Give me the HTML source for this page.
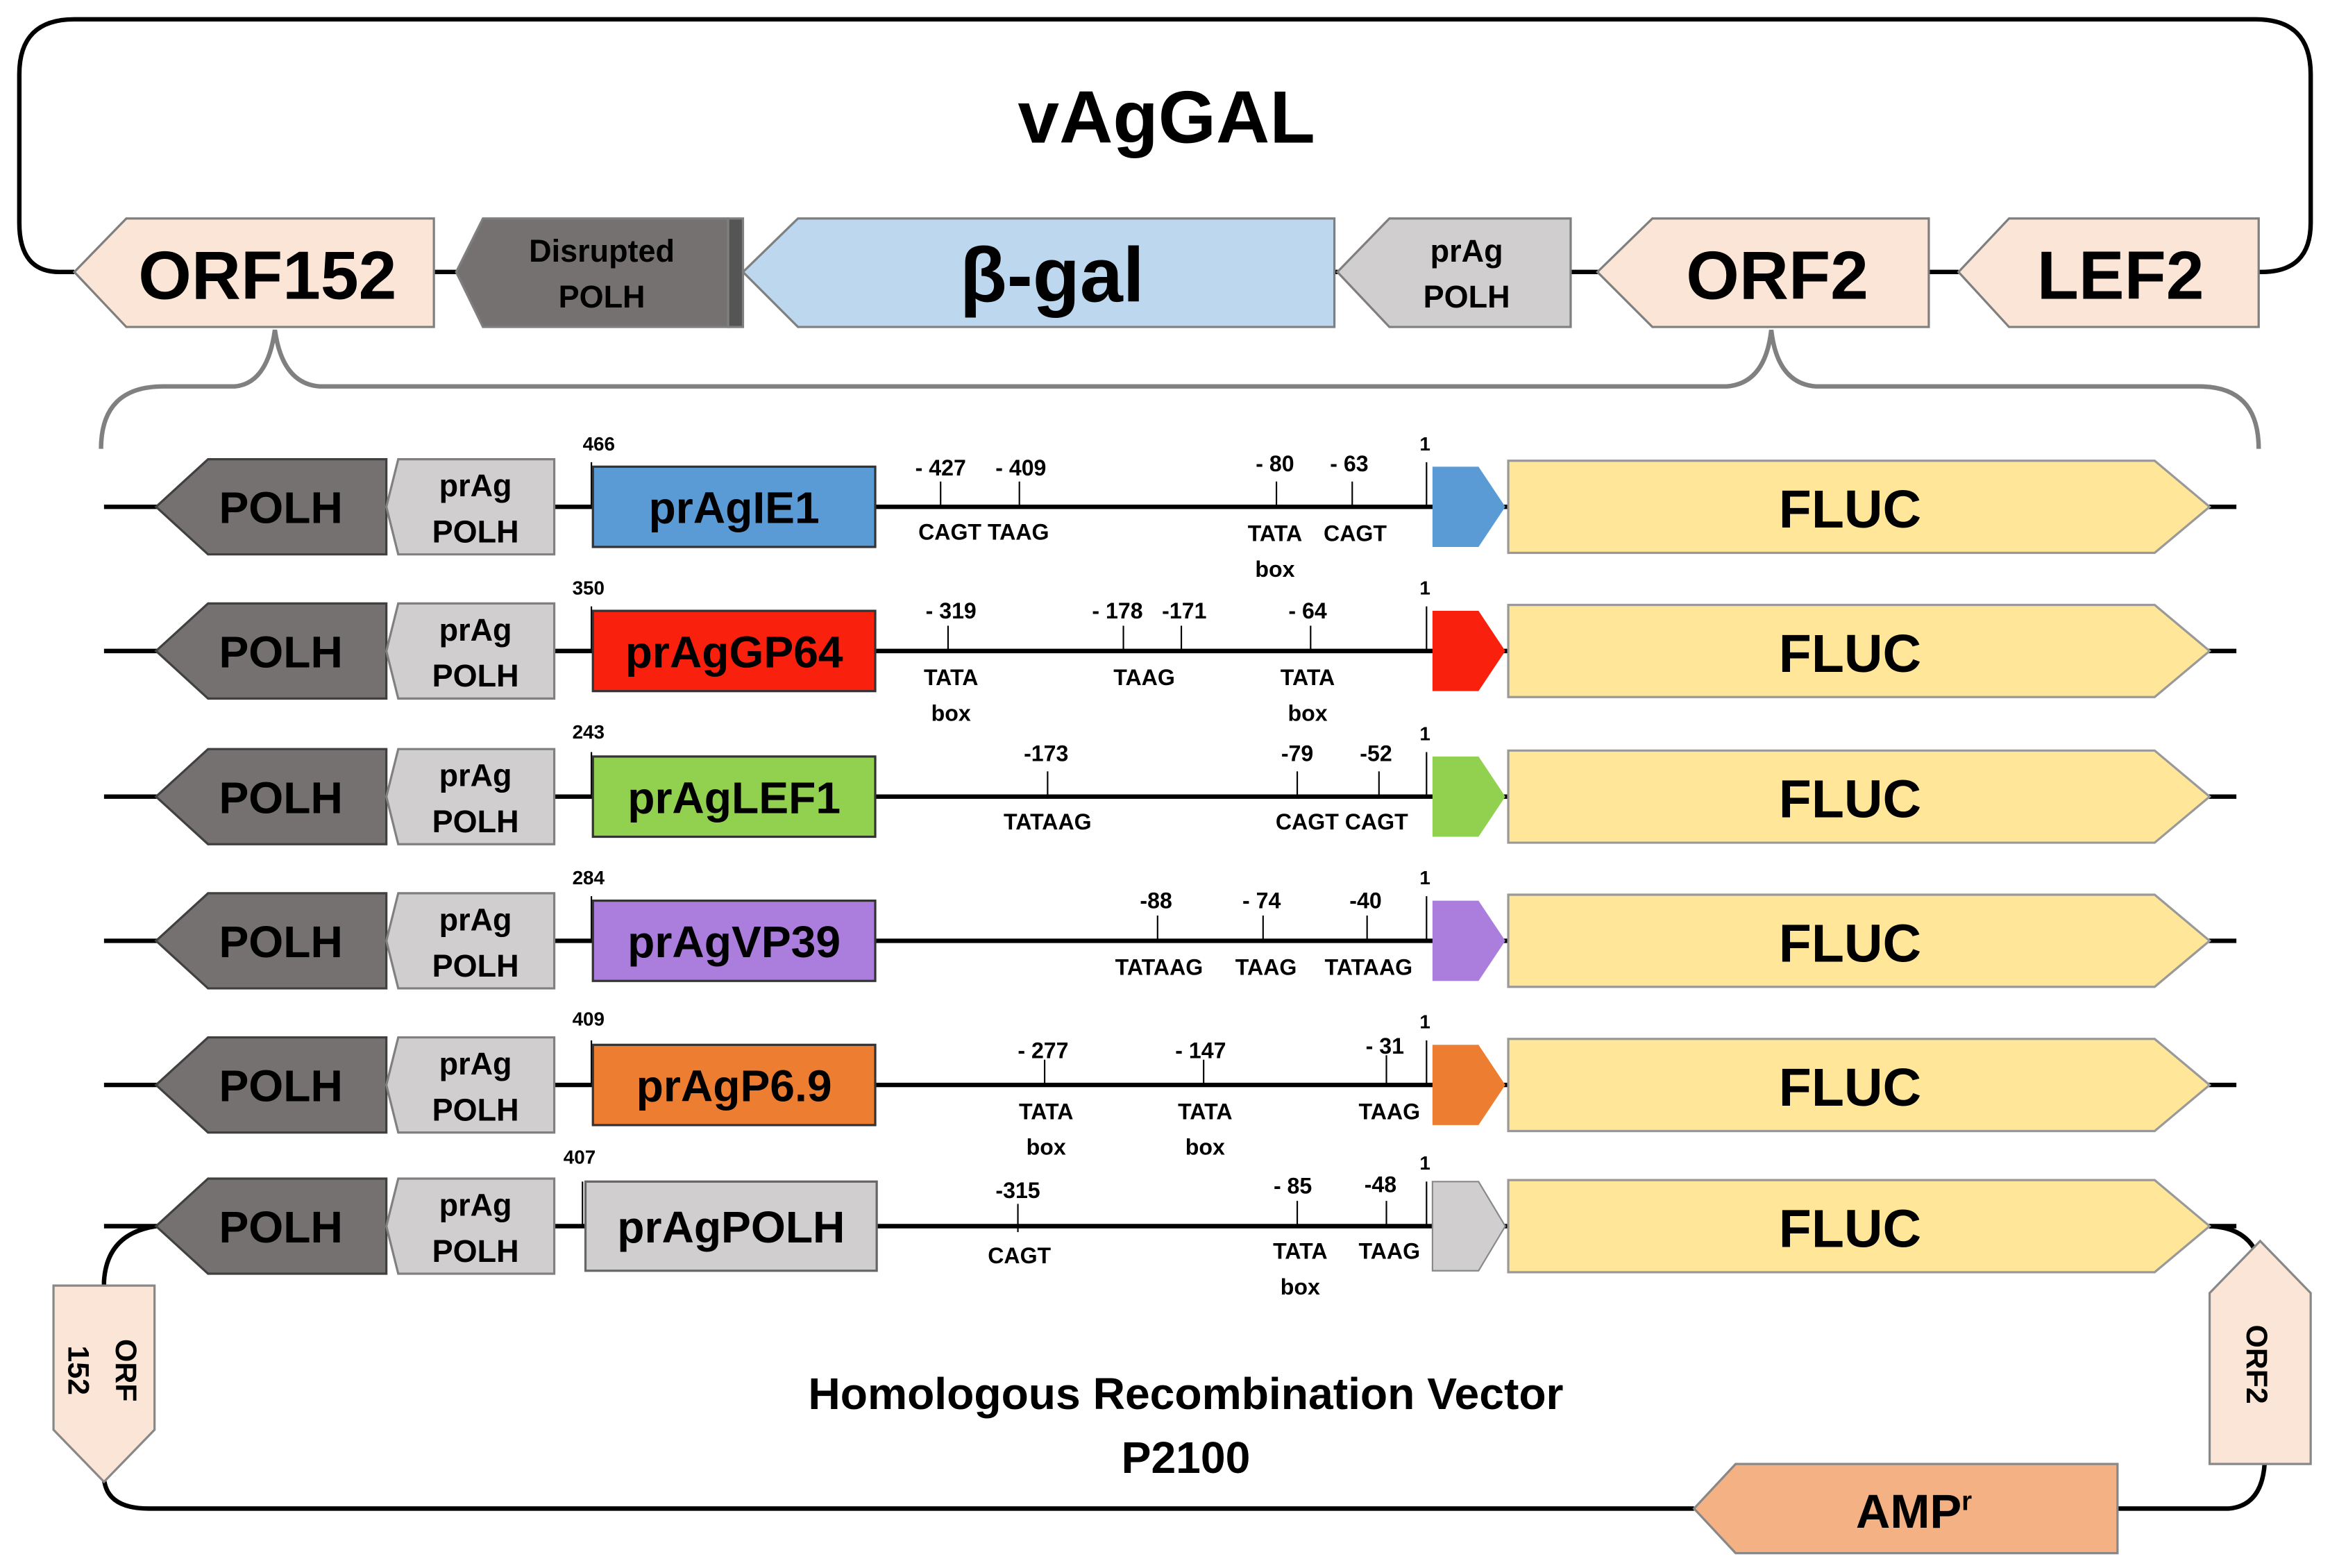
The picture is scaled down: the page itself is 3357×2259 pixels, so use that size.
<!DOCTYPE html>
<html><head><meta charset="utf-8"><style>
html,body{margin:0;padding:0;background:#fff;}
svg{display:block;}
text{font-family:"Liberation Sans Narrow","Liberation Sans",sans-serif;font-weight:bold;fill:#000;text-anchor:middle;}
.s{font-size:15px;}
.m{font-size:21px;}
</style></head><body>
<svg width="3357" height="2259" viewBox="0 0 1568 1055" preserveAspectRatio="none" xmlns="http://www.w3.org/2000/svg">
<!-- top loop -->
<path d="M50,183 L40,183 Q13,183 13,150 L13,50 Q13,13 50,13 L1518,13 Q1555,13 1555,50 L1555,150 Q1555,183 1522,183 L1520,183" fill="none" stroke="#000" stroke-width="3"/>
<line x1="292" y1="183" x2="1318" y2="183" stroke="#000" stroke-width="3"/>
<text x="785" y="96" style="font-size:50px">vAgGAL</text>
<g stroke="#7f7f7f" stroke-width="1.5">
<polygon points="50,183 85,147 292,147 292,220 85,220" fill="#fbe5d6"/>
<polygon points="307,183 325,147 490,147 490,220 325,220" fill="#767171"/>
<rect x="490" y="147" width="10" height="73" fill="#555"/>
<polygon points="500,183 537,147 898,147 898,220 537,220" fill="#bdd7ee"/>
<polygon points="900,183 935,147 1057,147 1057,220 935,220" fill="#d0cece"/>
<polygon points="1075,183 1112,147 1298,147 1298,220 1112,220" fill="#fbe5d6"/>
<polygon points="1318,183 1352,147 1520,147 1520,220 1352,220" fill="#fbe5d6"/>
</g>
<text x="180" y="201" style="font-size:46px">ORF152</text>
<text x="405" y="176" class="m">Disrupted</text>
<text x="405" y="207" class="m">POLH</text>
<text x="708" y="203" style="font-size:52px">β-gal</text>
<text x="987" y="176" class="m">prAg</text>
<text x="987" y="207" class="m">POLH</text>
<text x="1196" y="201" style="font-size:46px">ORF2</text>
<text x="1427" y="201" style="font-size:46px">LEF2</text>
<!-- brace -->
<path d="M68,302 Q68,260 110,260 L158,260 Q180,258 185,222 Q190,258 215,260 L1162,260 Q1188,258 1192,222 Q1196,258 1222,260 L1480,260 Q1520,260 1520,302" fill="none" stroke="#808080" stroke-width="3"/>

<!-- rows -->
<defs>
<g id="base">
<line x1="70" y1="0" x2="1505" y2="0" stroke="#000" stroke-width="3"/>
<polygon points="105,0 140,-32 260,-32 260,32 140,32" fill="#767171" stroke="#404040" stroke-width="1.5"/>
<polygon points="260,0 268,-32 373,-32 373,32 268,32" fill="#d0cece" stroke="#808080" stroke-width="1.5"/>
<polygon points="1015,-31 1450,-31 1487,0 1450,31 1015,31" fill="#ffe699" stroke="#999" stroke-width="1.5"/>
<text x="189" y="11" style="font-size:30px">POLH</text>
<text x="320" y="-7" class="m">prAg</text>
<text x="320" y="24" class="m">POLH</text>
<text x="1245" y="14" style="font-size:36px">FLUC</text>
<line x1="960" y1="-30" x2="960" y2="0" stroke="#000" stroke-width="1"/>
<text x="959" y="-38" style="font-size:13px">1</text>
</g>
</defs>

<g transform="translate(0,341)">
<use href="#base"/>
<line x1="398" y1="-30" x2="398" y2="0" stroke="#000"/><text x="403" y="-38" style="font-size:13px">466</text>
<rect x="399" y="-27" width="190" height="54" fill="#5b9bd5" stroke="#333" stroke-width="1.5"/>
<text x="494" y="11" style="font-size:30px">prAgIE1</text>
<polygon points="964,-27 995,-27 1013,0 995,27 964,27" fill="#5b9bd5"/>
<g stroke="#000"><line x1="633" y1="-17" x2="633" y2="0"/><line x1="686" y1="-17" x2="686" y2="0"/><line x1="859" y1="-17" x2="859" y2="0"/><line x1="910" y1="-17" x2="910" y2="0"/></g>
<text x="633" y="-21" class="s">- 427</text><text x="687" y="-21" class="s">- 409</text><text x="858" y="-24" class="s">- 80</text><text x="908" y="-24" class="s">- 63</text>
<text x="662" y="22" class="s">CAGT TAAG</text><text x="858" y="23" class="s">TATA</text><text x="858" y="47" class="s">box</text><text x="912" y="23" class="s">CAGT</text>
</g>

<g transform="translate(0,438)">
<use href="#base"/>
<line x1="398" y1="-30" x2="398" y2="0" stroke="#000"/><text x="396" y="-38" style="font-size:13px">350</text>
<rect x="399" y="-27" width="190" height="54" fill="#f9200e" stroke="#333" stroke-width="1.5"/>
<text x="494" y="11" style="font-size:30px">prAgGP64</text>
<polygon points="964,-27 995,-27 1013,0 995,27 964,27" fill="#f9200e"/>
<g stroke="#000"><line x1="638" y1="-17" x2="638" y2="0"/><line x1="756" y1="-17" x2="756" y2="0"/><line x1="795" y1="-17" x2="795" y2="0"/><line x1="882" y1="-17" x2="882" y2="0"/></g>
<text x="640" y="-22" class="s">- 319</text><text x="752" y="-22" class="s">- 178</text><text x="797" y="-22" class="s">-171</text><text x="880" y="-22" class="s">- 64</text>
<text x="640" y="23" class="s">TATA</text><text x="640" y="47" class="s">box</text><text x="770" y="23" class="s">TAAG</text><text x="880" y="23" class="s">TATA</text><text x="880" y="47" class="s">box</text>
</g>

<g transform="translate(0,536)">
<use href="#base"/>
<line x1="398" y1="-30" x2="398" y2="0" stroke="#000"/><text x="396" y="-39" style="font-size:13px">243</text>
<rect x="399" y="-27" width="190" height="54" fill="#92d050" stroke="#333" stroke-width="1.5"/>
<text x="494" y="11" style="font-size:30px">prAgLEF1</text>
<polygon points="964,-27 995,-27 1013,0 995,27 964,27" fill="#92d050"/>
<g stroke="#000"><line x1="705" y1="-17" x2="705" y2="0"/><line x1="873" y1="-17" x2="873" y2="0"/><line x1="928" y1="-17" x2="928" y2="0"/></g>
<text x="704" y="-24" class="s">-173</text><text x="873" y="-24" class="s">-79</text><text x="926" y="-24" class="s">-52</text>
<text x="705" y="22" class="s">TATAAG</text><text x="903" y="22" class="s">CAGT  CAGT</text>
</g>

<g transform="translate(0,633)">
<use href="#base"/>
<line x1="398" y1="-30" x2="398" y2="0" stroke="#000"/><text x="396" y="-38" style="font-size:13px">284</text>
<rect x="399" y="-27" width="190" height="54" fill="#ab7ddc" stroke="#333" stroke-width="1.5"/>
<text x="494" y="11" style="font-size:30px">prAgVP39</text>
<polygon points="964,-27 995,-27 1013,0 995,27 964,27" fill="#ab7ddc"/>
<g stroke="#000"><line x1="779" y1="-17" x2="779" y2="0"/><line x1="850" y1="-17" x2="850" y2="0"/><line x1="920" y1="-17" x2="920" y2="0"/></g>
<text x="778" y="-22" class="s">-88</text><text x="849" y="-22" class="s">- 74</text><text x="919" y="-22" class="s">-40</text>
<text x="780" y="23" class="s">TATAAG</text><text x="852" y="23" class="s">TAAG</text><text x="921" y="23" class="s">TATAAG</text>
</g>

<g transform="translate(0,730)">
<use href="#base"/>
<line x1="398" y1="-30" x2="398" y2="0" stroke="#000"/><text x="396" y="-40" style="font-size:13px">409</text>
<rect x="399" y="-27" width="190" height="54" fill="#ed7d31" stroke="#333" stroke-width="1.5"/>
<text x="494" y="11" style="font-size:30px">prAgP6.9</text>
<polygon points="964,-27 995,-27 1013,0 995,27 964,27" fill="#ed7d31"/>
<g stroke="#000"><line x1="703" y1="-17" x2="703" y2="0"/><line x1="810" y1="-17" x2="810" y2="0"/><line x1="933" y1="-20" x2="933" y2="0"/></g>
<text x="702" y="-18" class="s">- 277</text><text x="808" y="-18" class="s">- 147</text><text x="932" y="-21" class="s">- 31</text>
<text x="704" y="23" class="s">TATA</text><text x="704" y="47" class="s">box</text><text x="811" y="23" class="s">TATA</text><text x="811" y="47" class="s">box</text><text x="935" y="23" class="s">TAAG</text>
</g>

<!-- bottom loop -->
<path d="M105,825 Q72,830 70,862 L70,870" fill="none" stroke="#000" stroke-width="3"/>
<path d="M70,995 Q72,1015 100,1015 L1140,1015" fill="none" stroke="#000" stroke-width="3"/>
<path d="M1425,1015 L1500,1015 Q1522,1013 1524,985" fill="none" stroke="#000" stroke-width="3"/>
<path d="M1487,825 Q1515,826 1521,850" fill="none" stroke="#000" stroke-width="3"/>

<g transform="translate(0,825)">
<use href="#base"/>
<line x1="392" y1="-30" x2="392" y2="0" stroke="#000"/><text x="390" y="-42" style="font-size:13px">407</text>
<rect x="394" y="-30" width="196" height="60" fill="#d0cece" stroke="#666" stroke-width="1.5"/>
<text x="492" y="11" style="font-size:30px">prAgPOLH</text>
<polygon points="964,-30 995,-30 1013,0 995,30 964,30" fill="#d0cece" stroke="#888"/>
<g stroke="#000"><line x1="685" y1="-15" x2="685" y2="4"/><line x1="873" y1="-17" x2="873" y2="0"/><line x1="933" y1="-17" x2="933" y2="0"/></g>
<text x="685" y="-19" class="s">-315</text><text x="870" y="-22" class="s">- 85</text><text x="929" y="-23" class="s">-48</text>
<text x="686" y="25" class="s">CAGT</text><text x="875" y="22" class="s">TATA</text><text x="875" y="46" class="s">box</text><text x="935" y="22" class="s">TAAG</text>
</g>

<g stroke="#888" stroke-width="1.5">
<polygon points="36,865 104,865 104,962 70,997 36,962" fill="#fbe5d6"/>
<polygon points="1521,835 1555,870 1555,985 1487,985 1487,870" fill="#fbe5d6"/>
<polygon points="1140,1015 1168,985 1425,985 1425,1045 1168,1045" fill="#f4b183"/>
</g>
<text transform="translate(78,922) rotate(90)" style="font-size:20px">ORF</text>
<text transform="translate(46,922) rotate(90)" style="font-size:20px">152</text>
<text transform="translate(1512,918) rotate(90)" style="font-size:20px">ORF2</text>
<text x="1288" y="1028" style="font-size:32px">AMP<tspan dy="-12" style="font-size:18px">r</tspan></text>
<text x="798" y="948" style="font-size:30px">Homologous Recombination Vector</text>
<text x="798" y="991" style="font-size:30px">P2100</text>
</svg>
</body></html>
